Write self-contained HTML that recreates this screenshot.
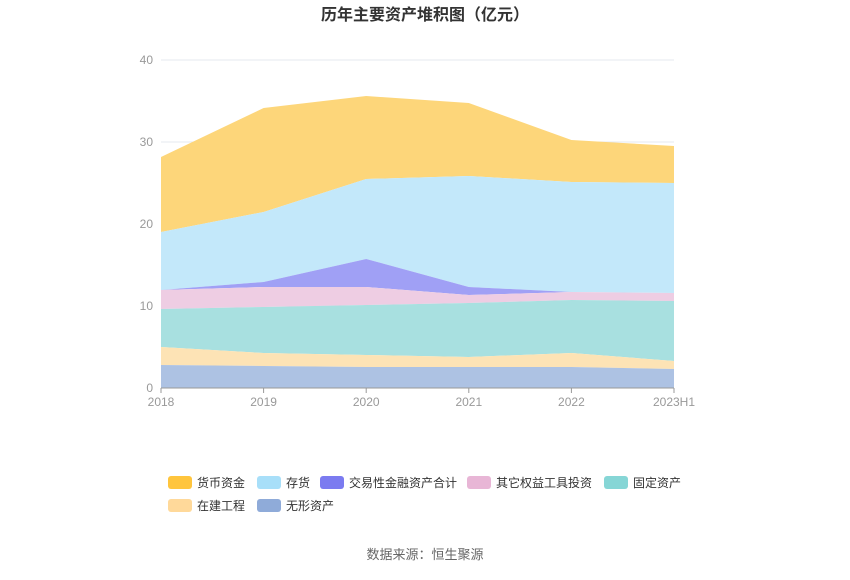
<!DOCTYPE html>
<html><head><meta charset="utf-8"><style>
body{margin:0;background:#fff;font-family:"Liberation Sans","Noto Sans CJK SC",sans-serif;}
</style></head><body>
<svg width="850" height="575" xmlns="http://www.w3.org/2000/svg" font-family="Liberation Sans, Noto Sans CJK SC, sans-serif">
<text x="425" y="20" text-anchor="middle" font-size="16" font-weight="bold" fill="#333">历年主要资产堆积图（亿元）</text>
<g stroke="#e6e9ef" stroke-width="1">
<line x1="161" y1="60" x2="674" y2="60"/><line x1="161" y1="142" x2="674" y2="142"/>
<line x1="161" y1="224" x2="674" y2="224"/><line x1="161" y1="306" x2="674" y2="306"/>
</g>
<g font-size="12" fill="#999" text-anchor="end">
<text x="153" y="64">40</text><text x="153" y="146">30</text><text x="153" y="228">20</text><text x="153" y="310">10</text><text x="153" y="392">0</text>
</g>
<!-- areas, x: 161,263.6,366.2,468.8,571.4,674 -->
<polygon fill="#fdd67a" points="161,157 263.6,108 366.2,96 468.8,103 571.4,140 674,146 674,183 571.4,182 468.8,176 366.2,179 263.6,212 161,232"/>
<polygon fill="#c3e8fa" points="161,232 263.6,212 366.2,179 468.8,176 571.4,182 674,183 674,293 571.4,292 468.8,287 366.2,259 263.6,282 161,290"/>
<polygon fill="#a0a0f5" points="161,290 263.6,282 366.2,259 468.8,287 571.4,292 674,293 674,293 571.4,292 468.8,295 366.2,287 263.6,287 161,290"/>
<polygon fill="#eecde3" points="161,290 263.6,287 366.2,287 468.8,295 571.4,292 674,293 674,301 571.4,300 468.8,303 366.2,305 263.6,307 161,309"/>
<polygon fill="#a8e0e0" points="161,309 263.6,307 366.2,305 468.8,303 571.4,300 674,301 674,361 571.4,353 468.8,357 366.2,355 263.6,353 161,347"/>
<polygon fill="#fde3b5" points="161,347 263.6,353 366.2,355 468.8,357 571.4,353 674,361 674,369 571.4,367 468.8,367 366.2,367 263.6,366 161,365"/>
<polygon fill="#adc2e3" points="161,365 263.6,366 366.2,367 468.8,367 571.4,367 674,369 674,388 161,388"/>
<line x1="161" y1="388" x2="674" y2="388" stroke="#999"/>
<g stroke="#999"><line x1="161" y1="388" x2="161" y2="393"/><line x1="263.6" y1="388" x2="263.6" y2="393"/><line x1="366.2" y1="388" x2="366.2" y2="393"/><line x1="468.8" y1="388" x2="468.8" y2="393"/><line x1="571.4" y1="388" x2="571.4" y2="393"/><line x1="674" y1="388" x2="674" y2="393"/></g>
<g font-size="12" fill="#999" text-anchor="middle">
<text x="161" y="406">2018</text><text x="263.6" y="406">2019</text><text x="366.2" y="406">2020</text><text x="468.8" y="406">2021</text><text x="571.4" y="406">2022</text><text x="674" y="406">2023H1</text>
</g>
<g font-size="12" fill="#333">
<rect x="168" y="476" width="24" height="13" rx="3" fill="#ffc53d"/><text x="197" y="487">货币资金</text>
<rect x="257" y="476" width="24" height="13" rx="3" fill="#a8dff9"/><text x="286" y="487">存货</text>
<rect x="320" y="476" width="24" height="13" rx="3" fill="#7b7bf0"/><text x="349" y="487">交易性金融资产合计</text>
<rect x="467" y="476" width="24" height="13" rx="3" fill="#e8b6d6"/><text x="496" y="487">其它权益工具投资</text>
<rect x="604" y="476" width="24" height="13" rx="3" fill="#86d6d6"/><text x="633" y="487">固定资产</text>
<rect x="168" y="499" width="24" height="13" rx="3" fill="#ffd99a"/><text x="197" y="510">在建工程</text>
<rect x="257" y="499" width="24" height="13" rx="3" fill="#8fabd9"/><text x="286" y="510">无形资产</text>
</g>
<text x="425" y="559" text-anchor="middle" font-size="13" fill="#666">数据来源：恒生聚源</text>
</svg>
</body></html>
